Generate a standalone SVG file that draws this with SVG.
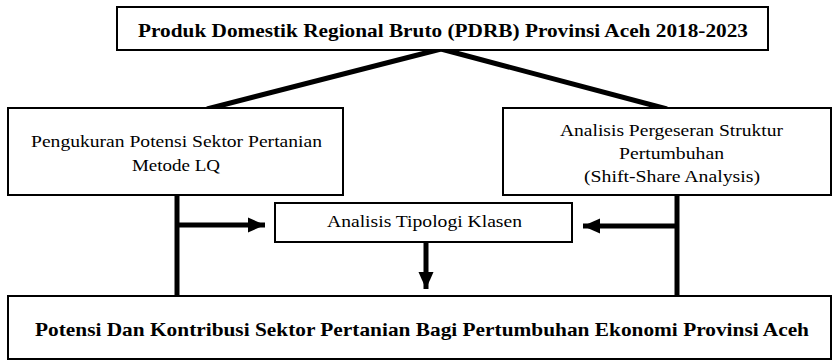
<svg xmlns="http://www.w3.org/2000/svg" width="836" height="360" viewBox="0 0 836 360">
<style>
.box{fill:#fff;stroke:#000;stroke-width:2}
text{font-family:'Liberation Serif','Times New Roman',serif;fill:#000;text-anchor:middle}
.r{font-size:16px}
.b{font-size:19px;font-weight:bold}
.c{stroke:#000;stroke-width:5;fill:none}
</style>
<defs>
<marker id="ah" markerUnits="userSpaceOnUse" markerWidth="18" markerHeight="18" refX="17" refY="9" orient="auto">
<path d="M0,1.5 L17,9 L0,16.5 Z" fill="#000"/>
</marker>
</defs>
<g id="connectors">
<line class="c" x1="441" y1="49" x2="207" y2="109"/>
<line class="c" x1="441" y1="49" x2="667" y2="109"/>
<line class="c" x1="177" y1="195" x2="177" y2="297"/>
<line class="c" x1="677" y1="195" x2="677" y2="297"/>
<line class="c" x1="177" y1="225" x2="265" y2="225" marker-end="url(#ah)"/>
<line class="c" x1="677" y1="226" x2="583" y2="226" marker-end="url(#ah)"/>
<line class="c" x1="426" y1="242" x2="426" y2="289" marker-end="url(#ah)"/>
</g>
<g id="pdrb">
<rect class="box" x="117" y="7" width="651" height="43"/>
<text class="b" x="443" y="37" textLength="610" lengthAdjust="spacingAndGlyphs">Produk Domestik Regional Bruto (PDRB) Provinsi Aceh 2018-2023</text>
</g>
<g id="lq">
<rect class="box" x="8" y="108" width="335" height="87"/>
<text class="r" x="176.5" y="147" textLength="291" lengthAdjust="spacingAndGlyphs">Pengukuran Potensi Sektor Pertanian</text>
<text class="r" x="176" y="171" textLength="88" lengthAdjust="spacingAndGlyphs">Metode LQ</text>
</g>
<g id="shiftshare">
<rect class="box" x="503" y="108" width="328" height="87"/>
<text class="r" x="671.5" y="136" textLength="223" lengthAdjust="spacingAndGlyphs">Analisis Pergeseran Struktur</text>
<text class="r" x="671.5" y="159" textLength="105" lengthAdjust="spacingAndGlyphs">Pertumbuhan</text>
<text class="r" x="672" y="182" textLength="176" lengthAdjust="spacingAndGlyphs">(Shift-Share Analysis)</text>
</g>
<g id="klasen">
<rect class="box" x="275" y="203" width="297" height="39"/>
<text class="r" x="424.5" y="227" textLength="195" lengthAdjust="spacingAndGlyphs">Analisis Tipologi Klasen</text>
</g>
<g id="potensi">
<rect class="box" x="8" y="296" width="823" height="63"/>
<text class="b" x="422" y="336" textLength="774" lengthAdjust="spacingAndGlyphs">Potensi Dan Kontribusi Sektor Pertanian Bagi Pertumbuhan Ekonomi Provinsi Aceh</text>
</g>
</svg>
